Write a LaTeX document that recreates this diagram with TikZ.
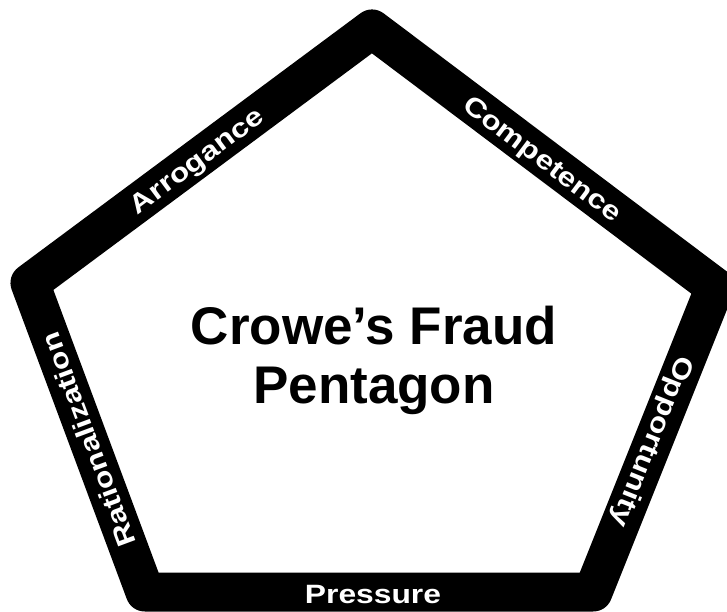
\documentclass[tikz,border=0pt]{standalone}
\usepackage{fontspec}
\setmainfont{Liberation Sans}
\begin{document}
\begin{tikzpicture}[x=1pt,y=-1pt,
  band/.style={draw=black,line width=39pt,line join=round},
  sidelabel/.style={text=white,inner sep=0pt,text height=19pt,text depth=0pt,
    font=\fontsize{26.5}{30}\selectfont\bfseries},
  titlelabel/.style={text=black,align=center,inner sep=0pt,
    font=\fontsize{53}{59}\selectfont\bfseries}]
\useasboundingbox (0,0) rectangle (727,611);
\clip (0,0) rectangle (727,611);
\fill[white] (0,0) rectangle (727,611);
\coordinate (T) at (372,29);
\coordinate (R) at (715,287);
\coordinate (BR) at (593,592);
\coordinate (BL) at (145,592);
\coordinate (L) at (30,283);
\draw[band] (T) -- (R) -- (BR) -- (BL) -- (L) -- cycle;
\node[sidelabel,rotate=36.6] (arr) at (196,160) {\scalebox{1.2}[1]{Arrogance}};
\node[sidelabel,rotate=-36.95] (comp) at (543,158) {\scalebox{1.2}[1]{Competence}};
\node[sidelabel,rotate=-111.8] (opp) at (654,442) {\scalebox{1.2}[1]{Opportunity}};
\node[sidelabel] (press) at (373,594) {\scalebox{1.2}[1]{Pressure}};
\node[sidelabel,rotate=110.4] (rat) at (88,440) {\scalebox{1.2}[1]{Rationalization}};
\node[titlelabel] (title) at (374,360) {Crowe’s Fraud\\Pentagon};
\end{tikzpicture}
\end{document}
